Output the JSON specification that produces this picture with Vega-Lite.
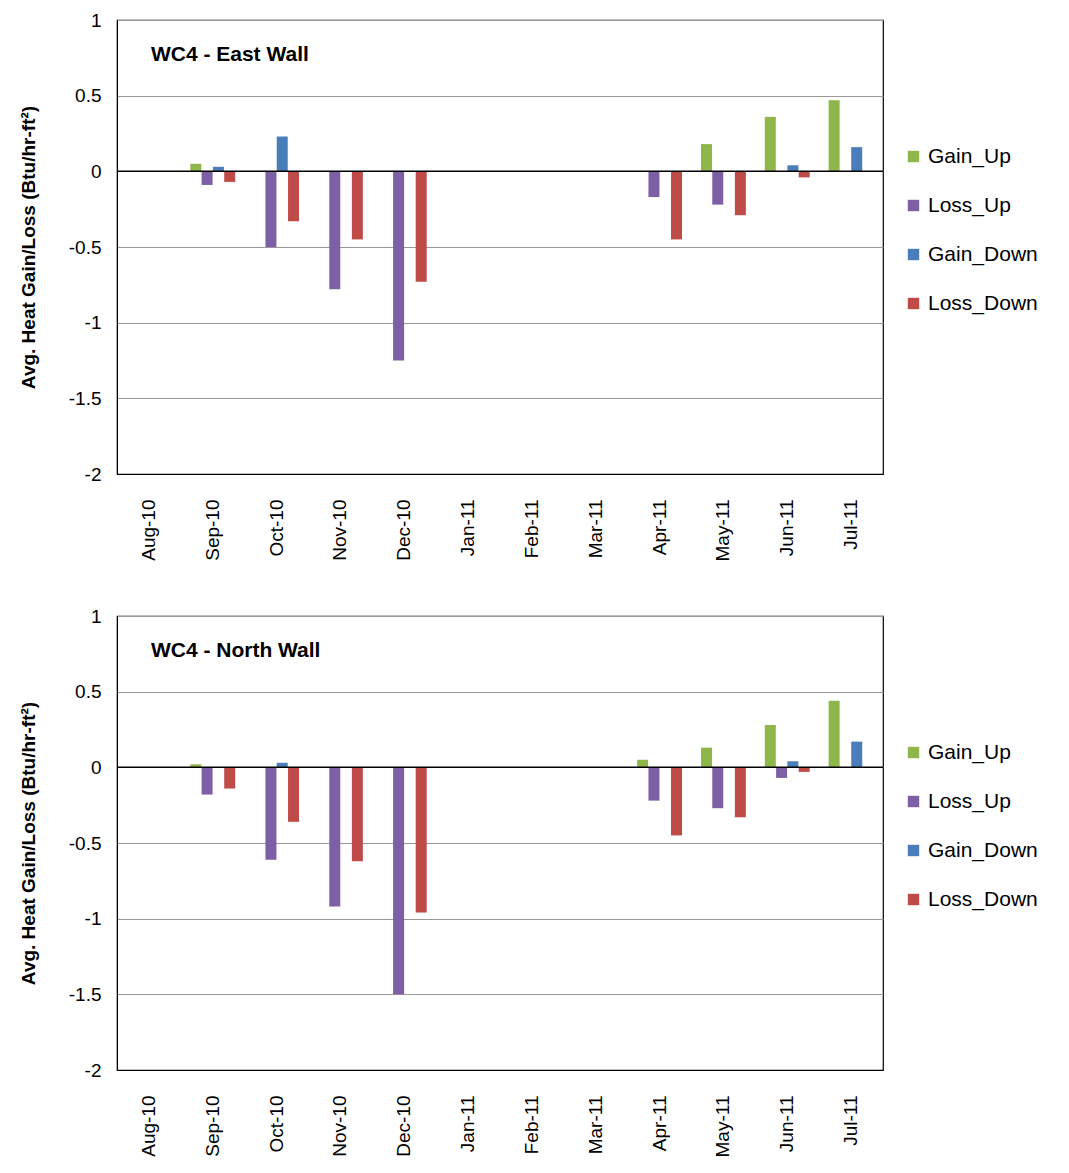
{
  "$schema": "https://vega.github.io/schema/vega-lite/v6.json",
  "padding": {"top": 10, "left": 18, "right": 5, "bottom": 0},
  "datasets": {
    "bars": [
      {"wall": "East", "month": "Sep-10", "series": "Gain_Up", "v": 0.05},
      {"wall": "East", "month": "Sep-10", "series": "Loss_Up", "v": -0.09},
      {"wall": "East", "month": "Sep-10", "series": "Gain_Down", "v": 0.03},
      {"wall": "East", "month": "Sep-10", "series": "Loss_Down", "v": -0.07},
      {"wall": "East", "month": "Oct-10", "series": "Loss_Up", "v": -0.5},
      {"wall": "East", "month": "Oct-10", "series": "Gain_Down", "v": 0.23},
      {"wall": "East", "month": "Oct-10", "series": "Loss_Down", "v": -0.33},
      {"wall": "East", "month": "Nov-10", "series": "Loss_Up", "v": -0.78},
      {"wall": "East", "month": "Nov-10", "series": "Loss_Down", "v": -0.45},
      {"wall": "East", "month": "Dec-10", "series": "Loss_Up", "v": -1.25},
      {"wall": "East", "month": "Dec-10", "series": "Loss_Down", "v": -0.73},
      {"wall": "East", "month": "Apr-11", "series": "Loss_Up", "v": -0.17},
      {"wall": "East", "month": "Apr-11", "series": "Loss_Down", "v": -0.45},
      {"wall": "East", "month": "May-11", "series": "Gain_Up", "v": 0.18},
      {"wall": "East", "month": "May-11", "series": "Loss_Up", "v": -0.22},
      {"wall": "East", "month": "May-11", "series": "Loss_Down", "v": -0.29},
      {"wall": "East", "month": "Jun-11", "series": "Gain_Up", "v": 0.36},
      {"wall": "East", "month": "Jun-11", "series": "Gain_Down", "v": 0.04},
      {"wall": "East", "month": "Jun-11", "series": "Loss_Down", "v": -0.04},
      {"wall": "East", "month": "Jul-11", "series": "Gain_Up", "v": 0.47},
      {"wall": "East", "month": "Jul-11", "series": "Gain_Down", "v": 0.16},
      {"wall": "North", "month": "Sep-10", "series": "Gain_Up", "v": 0.02},
      {"wall": "North", "month": "Sep-10", "series": "Loss_Up", "v": -0.18},
      {"wall": "North", "month": "Sep-10", "series": "Loss_Down", "v": -0.14},
      {"wall": "North", "month": "Oct-10", "series": "Loss_Up", "v": -0.61},
      {"wall": "North", "month": "Oct-10", "series": "Gain_Down", "v": 0.03},
      {"wall": "North", "month": "Oct-10", "series": "Loss_Down", "v": -0.36},
      {"wall": "North", "month": "Nov-10", "series": "Loss_Up", "v": -0.92},
      {"wall": "North", "month": "Nov-10", "series": "Loss_Down", "v": -0.62},
      {"wall": "North", "month": "Dec-10", "series": "Loss_Up", "v": -1.5},
      {"wall": "North", "month": "Dec-10", "series": "Loss_Down", "v": -0.96},
      {"wall": "North", "month": "Apr-11", "series": "Gain_Up", "v": 0.05},
      {"wall": "North", "month": "Apr-11", "series": "Loss_Up", "v": -0.22},
      {"wall": "North", "month": "Apr-11", "series": "Loss_Down", "v": -0.45},
      {"wall": "North", "month": "May-11", "series": "Gain_Up", "v": 0.13},
      {"wall": "North", "month": "May-11", "series": "Loss_Up", "v": -0.27},
      {"wall": "North", "month": "May-11", "series": "Loss_Down", "v": -0.33},
      {"wall": "North", "month": "Jun-11", "series": "Gain_Up", "v": 0.28},
      {"wall": "North", "month": "Jun-11", "series": "Loss_Up", "v": -0.07},
      {"wall": "North", "month": "Jun-11", "series": "Gain_Down", "v": 0.04},
      {"wall": "North", "month": "Jun-11", "series": "Loss_Down", "v": -0.03},
      {"wall": "North", "month": "Jul-11", "series": "Gain_Up", "v": 0.44},
      {"wall": "North", "month": "Jul-11", "series": "Gain_Down", "v": 0.17}
    ]
  },
  "vconcat": [
    {
      "width": 766, "height": 454,
      "layer": [
        {
          "data": {"name": "bars"},
          "transform": [{"filter": "datum.wall == 'East'"}],
          "mark": {"type": "bar", "width": 11},
          "encoding": {
            "x": {"field": "month", "type": "nominal", "sort": null, "scale": {"domain": ["Aug-10","Sep-10","Oct-10","Nov-10","Dec-10","Jan-11","Feb-11","Mar-11","Apr-11","May-11","Jun-11","Jul-11"], "paddingInner": 0, "paddingOuter": 0}, "title": null, "axis": {"labelAngle": -90, "labelFontSize": 19, "ticks": false, "labelPadding": 25, "domain": true, "domainColor": "#000"}},
            "xOffset": {"field": "series", "type": "nominal", "scale": {"domain": ["Gain_Up","Loss_Up","Gain_Down","Loss_Down"], "paddingInner": 0.05, "paddingOuter": 0.85}},
            "y": {"field": "v", "type": "quantitative", "scale": {"domain": [-2, 1]}, "title": "Avg. Heat Gain/Loss (Btu/hr-ft²)", "axis": {"values": [1, 0.5, 0, -0.5, -1, -1.5, -2], "labelExpr": "toString(datum.value)", "labelFontSize": 19, "titleFontSize": 19, "titleFontWeight": "bold", "titlePadding": 30, "grid": true, "gridColor": "#999", "ticks": false, "labelPadding": 16, "domainColor": "#000"}},
            "color": {"field": "series", "type": "nominal", "scale": {"domain": ["Gain_Up","Loss_Up","Gain_Down","Loss_Down"], "range": ["#8eb64a","#7d5fa6","#4a7ebb","#be4b48"]}, "title": null, "legend": {"orient": "none", "legendX": 786, "legendY": 126, "labelFontSize": 21, "symbolType": "square", "symbolSize": 130, "rowPadding": 27, "labelOffset": 4}}
          }
        },
        {
          "data": {"values": [{"y": 0}]},
          "mark": {"type": "rule", "color": "#000", "strokeWidth": 1.5},
          "encoding": {"y": {"field": "y", "type": "quantitative"}}
        },
        {
          "data": {"values": [{"t": "WC4 - East Wall", "m": "Aug-10", "y": 0.77}]},
          "mark": {"type": "text", "align": "left", "dx": 2, "fontSize": 21, "fontWeight": "bold"},
          "encoding": {"x": {"field": "m", "type": "nominal", "sort": null, "bandPosition": 0.5}, "y": {"field": "y", "type": "quantitative"}, "text": {"field": "t"}}
        }
      ]
    },
    {
      "width": 766, "height": 454,
      "layer": [
        {
          "data": {"name": "bars"},
          "transform": [{"filter": "datum.wall == 'North'"}],
          "mark": {"type": "bar", "width": 11},
          "encoding": {
            "x": {"field": "month", "type": "nominal", "sort": null, "scale": {"domain": ["Aug-10","Sep-10","Oct-10","Nov-10","Dec-10","Jan-11","Feb-11","Mar-11","Apr-11","May-11","Jun-11","Jul-11"], "paddingInner": 0, "paddingOuter": 0}, "title": null, "axis": {"labelAngle": -90, "labelFontSize": 19, "ticks": false, "labelPadding": 25, "domain": true, "domainColor": "#000"}},
            "xOffset": {"field": "series", "type": "nominal", "scale": {"domain": ["Gain_Up","Loss_Up","Gain_Down","Loss_Down"], "paddingInner": 0.05, "paddingOuter": 0.85}},
            "y": {"field": "v", "type": "quantitative", "scale": {"domain": [-2, 1]}, "title": "Avg. Heat Gain/Loss (Btu/hr-ft²)", "axis": {"values": [1, 0.5, 0, -0.5, -1, -1.5, -2], "labelExpr": "toString(datum.value)", "labelFontSize": 19, "titleFontSize": 19, "titleFontWeight": "bold", "titlePadding": 30, "grid": true, "gridColor": "#999", "ticks": false, "labelPadding": 16, "domainColor": "#000"}},
            "color": {"field": "series", "type": "nominal", "scale": {"domain": ["Gain_Up","Loss_Up","Gain_Down","Loss_Down"], "range": ["#8eb64a","#7d5fa6","#4a7ebb","#be4b48"]}, "title": null, "legend": {"orient": "none", "legendX": 786, "legendY": 126, "labelFontSize": 21, "symbolType": "square", "symbolSize": 130, "rowPadding": 27, "labelOffset": 4}}
          }
        },
        {
          "data": {"values": [{"y": 0}]},
          "mark": {"type": "rule", "color": "#000", "strokeWidth": 1.5},
          "encoding": {"y": {"field": "y", "type": "quantitative"}}
        },
        {
          "data": {"values": [{"t": "WC4 - North Wall", "m": "Aug-10", "y": 0.77}]},
          "mark": {"type": "text", "align": "left", "dx": 2, "fontSize": 21, "fontWeight": "bold"},
          "encoding": {"x": {"field": "m", "type": "nominal", "sort": null, "bandPosition": 0.5}, "y": {"field": "y", "type": "quantitative"}, "text": {"field": "t"}}
        }
      ]
    }
  ],
  "resolve": {"legend": {"color": "independent"}},
  "spacing": 44,
  "config": {
    "font": "Liberation Sans",
    "view": {"stroke": "#000", "strokeWidth": 1.2},
    "axis": {"labelColor": "#000", "titleColor": "#000"},
    "legend": {"labelColor": "#000"}
  }
}
